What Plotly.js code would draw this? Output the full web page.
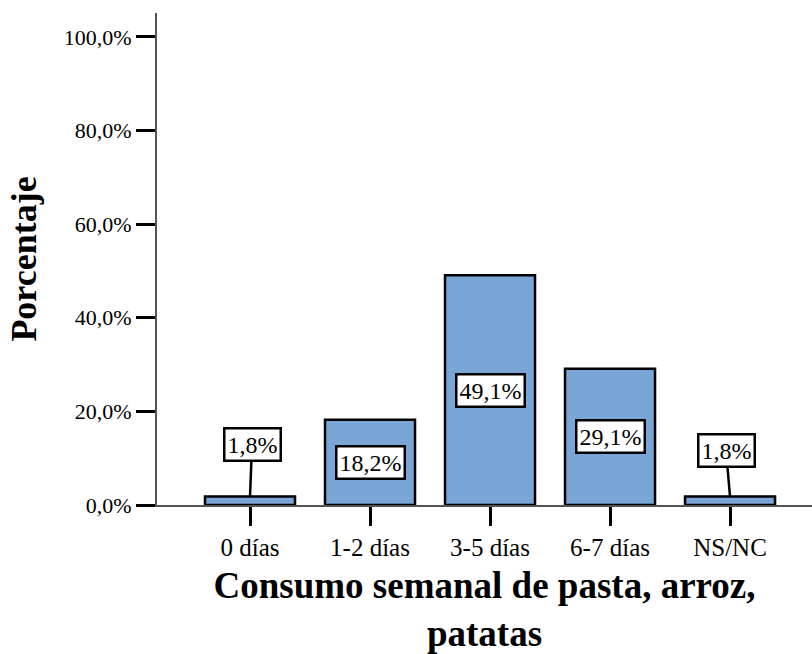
<!DOCTYPE html>
<html>
<head>
<meta charset="utf-8">
<script src="https://cdn.plot.ly/plotly-3.0.1.min.js"></script>
<style>html,body{margin:0;padding:0;background:#fff;}#chart{width:812px;height:654px;}</style>
</head>
<body>
<div id="chart"></div>
<script>
const categories = ["0 días", "1-2 días", "3-5 días", "6-7 días", "NS/NC"];
const values = [1.8, 18.2, 49.1, 29.1, 1.8];
const valueLabels = ["1,8%", "18,2%", "49,1%", "29,1%", "1,8%"];
const yTickVals = [0, 20, 40, 60, 80, 100];
const yTickText = ["0,0%", "20,0%", "40,0%", "60,0%", "80,0%", "100,0%"];
// small bars get the label outside with a leader line
const leaderOffsetX = [2, 0, 0, 0, -4];
const leaderOffsetY = [-52, 0, 0, 0, -46];
const useLeader = [true, false, false, false, true];

const font = "'Liberation Serif', 'Times New Roman', serif";

const trace = {
  type: "bar",
  x: categories,
  y: values,
  width: 0.75,
  marker: {color: "#79a6d6", line: {color: "#000", width: 2.5}},
  hoverinfo: "skip"
};

const annotations = categories.map((c, i) => {
  const base = {
    x: c, xref: "x", yref: "y",
    text: valueLabels[i],
    font: {family: font, size: 24, color: "#000"},
    bgcolor: "#fff", bordercolor: "#000", borderwidth: 2.5, borderpad: 2
  };
  if (useLeader[i]) {
    return Object.assign(base, {
      y: values[i], showarrow: true, arrowhead: 0, arrowwidth: 2.5, arrowcolor: "#000",
      ax: leaderOffsetX[i], ay: leaderOffsetY[i], standoff: 0
    });
  }
  return Object.assign(base, {y: values[i] / 2, showarrow: false});
});

const layout = {
  width: 812, height: 654,
  margin: {l: 157, r: 0, t: 13, b: 149},
  paper_bgcolor: "#fff", plot_bgcolor: "#fff",
  showlegend: false,
  font: {family: font, color: "#000"},
  xaxis: {
    type: "category",
    range: [-0.775, 4.683],
    showline: true, linecolor: "#555", linewidth: 2,
    ticks: "outside", ticklen: 19, tickwidth: 3, tickcolor: "#000",
    tickfont: {family: font, size: 25, color: "#000"},
    showgrid: false, zeroline: false,
    title: {text: "<b>Consumo semanal de pasta, arroz,<br>patatas</b>", font: {family: font, size: 37, color: "#000"}, standoff: 28}
  },
  yaxis: {
    range: [0, 105.1],
    tickvals: yTickVals, ticktext: yTickText,
    showline: true, linecolor: "#555", linewidth: 2,
    ticks: "outside", ticklen: 19, tickwidth: 3, tickcolor: "#000",
    tickfont: {family: font, size: 22, color: "#000"},
    showgrid: false, zeroline: false,
    title: {text: "<b>Porcentaje</b>", font: {family: font, size: 36, color: "#000"}, standoff: 16}
  },
  annotations: annotations
};

Plotly.newPlot("chart", [trace], layout, {displayModeBar: false, staticPlot: true});
</script>
</body>
</html>
